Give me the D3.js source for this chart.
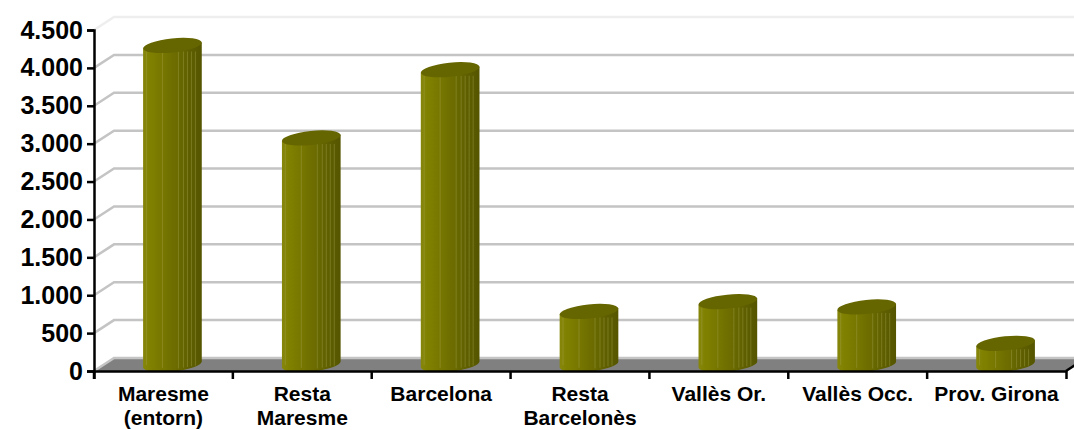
<!DOCTYPE html>
<html>
<head>
<meta charset="utf-8">
<script src="https://cdn.jsdelivr.net/npm/d3@7"></script>
<style>
    html, body { margin: 0; padding: 0; background: #fff; overflow: hidden; }
    text { font-family: "Liberation Sans", Arial, sans-serif; font-weight: bold; fill: #000; }
</style>
</head>
<body>
<div id="chart"></div>
<script>
//data
const CATEGORIES = ["Maresme (entorn)", "Resta Maresme", "Barcelona", "Resta Barcelonès", "Vallès Or.", "Vallès Occ.", "Prov. Girona"];
const VALUES = [4210, 2990, 3890, 700, 830, 760, 280];
const Y_TICKS = [0, 500, 1000, 1500, 2000, 2500, 3000, 3500, 4000, 4500];

const WIDTH = 1074;
const HEIGHT = 430;

const MARGIN = { top: 30, right: 8, bottom: 59, left: 94 };

// depth of the fake 3d box
const DEPTH_X = 20;
const DEPTH_Y = 13;

const BAR_HALF = 29.5;
const BAR_RY = 7;
const TILT = 6;

const svg = d3.select("#chart").append("svg")
    .attr("width", WIDTH)
    .attr("height", HEIGHT);

const xScale = d3.scaleBand()
    .domain(CATEGORIES)
    .range([MARGIN.left, WIDTH - MARGIN.right]);

const yScale = d3.scaleLinear()
    .domain([0, 4500])
    .range([HEIGHT - MARGIN.bottom, MARGIN.top]);

const baseY = yScale(0);

/*-------------------- gradient for the cylinders --------------------*/

const defs = svg.append("defs");
const gradient = defs.append("linearGradient").attr("id", "cylinder");
[
    [0, "#86860c"], [0.12, "#808000"], [0.3, "#787800"],
    [0.55, "#6c6c00"], [0.8, "#5e5e00"], [1, "#555500"]
].forEach(s => gradient.append("stop").attr("offset", s[0]).attr("stop-color", s[1]));

/*-------------------- floor and walls --------------------*/

const xRight = WIDTH - MARGIN.right;

svg.append("polygon")
    .attr("points", [
        [MARGIN.left, baseY],
        [MARGIN.left + DEPTH_X, baseY - DEPTH_Y],
        [xRight + DEPTH_X, baseY - DEPTH_Y],
        [xRight, baseY]
    ].join(" "))
    .attr("fill", "#808080");

const grid = svg.append("g");

grid.selectAll("path")
    .data(Y_TICKS)
    .enter()
    .append("path")
    .attr("d", d => {
        const y = yScale(d);
        return `M${MARGIN.left},${y}L${MARGIN.left + DEPTH_X},${y - DEPTH_Y}L${xRight + DEPTH_X},${y - DEPTH_Y}`;
    })
    .attr("fill", "none")
    .attr("stroke", d => d === 4500 ? "#eeeeee" : "#c4c4c4")
    .attr("stroke-width", 2.5);

/*-------------------- cylinders --------------------*/

const dx = BAR_HALF * Math.cos(TILT * Math.PI / 180);
const dy = BAR_HALF * Math.sin(TILT * Math.PI / 180);

const bars = svg.selectAll(".bar")
    .data(VALUES)
    .enter()
    .append("g")
    .attr("class", "bar")
    .attr("transform", (d, i) => {
        const cx = xScale(CATEGORIES[i]) + xScale.bandwidth() / 2 + DEPTH_X / 2 - 1;
        return `translate(${cx},0)`;
    });

const bottomOf = -DEPTH_Y / 2;

bars.append("path")
    .attr("d", d => {
        const top = yScale(d) + bottomOf;
        const bottom = baseY + bottomOf;
        return `M${-dx},${top + dy}L${-dx},${bottom + dy}`
            + `A${BAR_HALF},${BAR_RY} ${-TILT} 0 0 ${dx},${bottom - dy}`
            + `L${dx},${top - dy}Z`;
    })
    .attr("fill", "url(#cylinder)");

// lighter facet edges down the body
const FACET_EDGES = [-26, -10, 6, 11, 15, 19, 23];

bars.each(function (d) {
    const top = yScale(d) + bottomOf;
    const bottom = baseY + bottomOf;
    d3.select(this).selectAll("line")
        .data(FACET_EDGES)
        .enter()
        .append("line")
        .attr("x1", e => e)
        .attr("x2", e => e)
        .attr("y1", e => top + 6)
        .attr("y2", e => bottom + 5 - Math.abs(e) / 6)
        .attr("stroke", "#a6a650")
        .attr("stroke-opacity", 0.4)
        .attr("stroke-width", 1);
});

bars.append("ellipse")
    .attr("cx", 0)
    .attr("cy", d => yScale(d) + bottomOf)
    .attr("rx", BAR_HALF)
    .attr("ry", BAR_RY)
    .attr("transform", d => `rotate(${-TILT} 0 ${yScale(d) + bottomOf})`)
    .attr("fill", "#666600");

/*-------------------- axes --------------------*/

const yAxis = d3.axisLeft(yScale)
    .tickValues(Y_TICKS)
    .tickSize(7)
    .tickPadding(4)
    .tickFormat(d => d3.format(",")(d).replace(",", "."));

const yAxisGroup = svg.append("g")
    .attr("transform", `translate(${MARGIN.left},0)`)
    .call(yAxis);

yAxisGroup.selectAll("text").style("font-size", "25px");

const xAxis = d3.axisBottom(xScale)
    .tickValues([])
    .tickSizeOuter(8);

const xAxisGroup = svg.append("g")
    .attr("transform", `translate(0,${baseY})`)
    .call(xAxis);

// ticks sit between the categories
xAxisGroup.selectAll(".between")
    .data(CATEGORIES)
    .enter()
    .append("line")
    .attr("class", "between")
    .attr("x1", d => xScale(d))
    .attr("x2", d => xScale(d))
    .attr("y1", 0)
    .attr("y2", 8);

[yAxisGroup, xAxisGroup].forEach(g => {
    g.selectAll("path,line").attr("stroke", "#000").attr("stroke-width", 2.5);
});

// short return at the right end of the floor
svg.append("line")
    .attr("x1", xRight)
    .attr("y1", baseY)
    .attr("x2", xRight + DEPTH_X)
    .attr("y2", baseY - DEPTH_Y)
    .attr("stroke", "#000")
    .attr("stroke-width", 2.5);

// two line category labels, wrapped on the space except for single line names
const SINGLE_LINE = ["Vallès Or.", "Vallès Occ.", "Prov. Girona"];

const labels = svg.selectAll(".cat")
    .data(CATEGORIES)
    .enter()
    .append("text")
    .attr("class", "cat")
    .attr("text-anchor", "middle")
    .style("font-size", "21px")
    .attr("y", 401);

labels.each(function (d) {
    const lines = SINGLE_LINE.includes(d) ? [d] : d.split(" ");
    d3.select(this).selectAll("tspan")
        .data(lines)
        .enter()
        .append("tspan")
        .attr("x", xScale(d) + xScale.bandwidth() / 2)
        .attr("dy", (l, i) => i === 0 ? 0 : 24)
        .text(l => l);
});
</script>
</body>
</html>
